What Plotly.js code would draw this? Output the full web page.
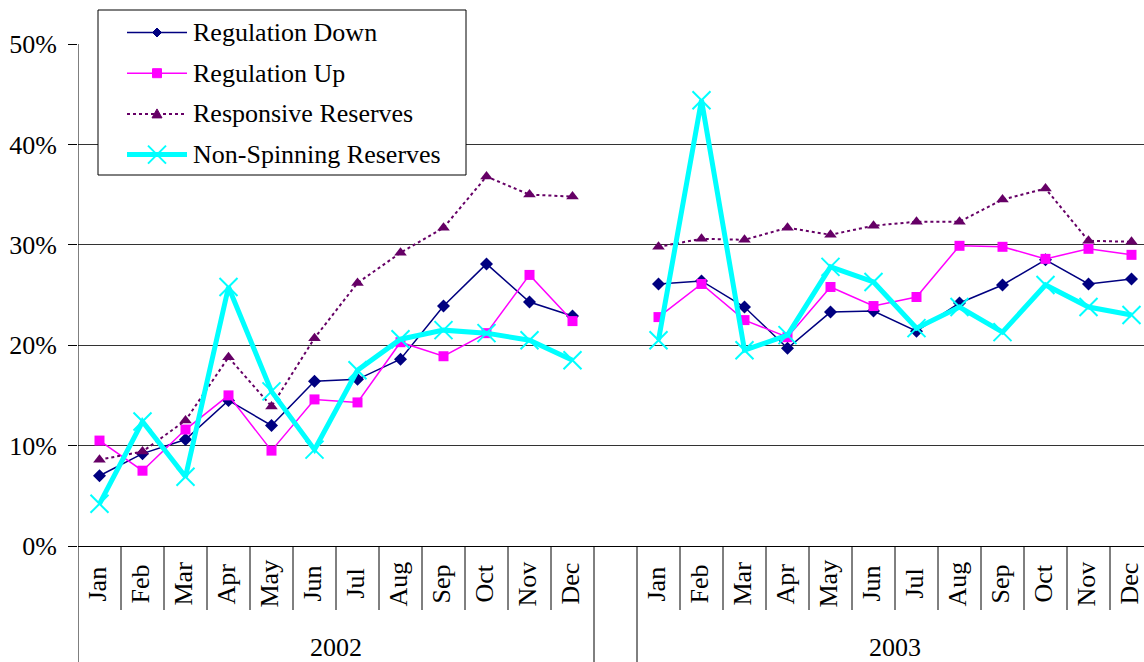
<!DOCTYPE html>
<html>
<head>
<meta charset="utf-8">
<script src="https://cdn.plot.ly/plotly-3.0.1.min.js"></script>
<style>
html, body { margin: 0; padding: 0; background: #fff; overflow: hidden; }
#chart { width: 1153px; height: 662px; }
</style>
</head>
<body>
<div id="chart"></div>
<script>
// ---- data ----
const months = ['Jan','Feb','Mar','Apr','May','Jun','Jul','Aug','Sep','Oct','Nov','Dec'];
const years = ['2002', '2003'];
const seriesNames = ['Regulation Down', 'Regulation Up', 'Responsive Reserves', 'Non-Spinning Reserves'];

const regDown2002 = [7.0, 9.2, 10.6, 14.5, 12.0, 16.4, 16.6, 18.6, 23.9, 28.1, 24.3, 22.9];
const regDown2003 = [26.1, 26.4, 23.8, 19.7, 23.3, 23.4, 21.4, 24.2, 26.0, 28.5, 26.1, 26.6];
const regUp2002 = [10.5, 7.5, 11.6, 15.0, 9.5, 14.6, 14.3, 20.3, 18.9, 21.2, 27.0, 22.4];
const regUp2003 = [22.8, 26.1, 22.5, 20.8, 25.8, 23.9, 24.8, 29.9, 29.8, 28.6, 29.6, 29.0];
const resp2002 = [8.6, 9.4, 12.5, 18.8, 13.9, 20.7, 26.2, 29.2, 31.7, 36.8, 35.0, 34.8];
const resp2003 = [29.8, 30.6, 30.5, 31.7, 31.0, 31.9, 32.3, 32.3, 34.5, 35.6, 30.4, 30.3];
const nonSpin2002 = [4.2, 12.4, 6.9, 25.8, 15.4, 9.6, 17.5, 20.6, 21.5, 21.2, 20.5, 18.5];
const nonSpin2003 = [20.5, 44.4, 19.5, 21.0, 27.8, 26.3, 21.7, 23.8, 21.3, 26.0, 23.8, 23.0];

const yTicks = [0, 10, 20, 30, 40, 50];

// ---- styles ----
const FONT = 'Liberation Serif';
const FS = 26;
const colors = ['#000080', '#FF00FF', '#660066', '#00FFFF'];

// ---- geometry (pixels) ----
const W = 1153, H = 662;
const M = { l: 78, r: 0, t: 44, b: 116 };
const PW = W - M.l - M.r, PH = H - M.t - M.b;
const px2x = px => (px - M.l) / PW;
const py2y = py => (H - M.b - py) / PH;

// ---- positions: 12 months, one empty slot, 12 months ----
const slot = months.length + 1;
const xs = [];
years.forEach((y, yi) => {
  months.forEach((m, mi) => xs.push(yi * slot + mi));
  if (yi < years.length - 1) xs.push(yi * slot + months.length);
});
function join(a, b) { return a.concat([null], b); }

const traces = [
  { name: seriesNames[0], y: join(regDown2002, regDown2003),
    line: { color: colors[0], width: 1.5 },
    marker: { symbol: 'diamond', size: 10, color: colors[0] } },
  { name: seriesNames[1], y: join(regUp2002, regUp2003),
    line: { color: colors[1], width: 1.5 },
    marker: { symbol: 'square', size: 10, color: colors[1] } },
  { name: seriesNames[2], y: join(resp2002, resp2003),
    line: { color: colors[2], width: 2, dash: 'dot' },
    marker: { symbol: 'triangle-up', size: 11, color: colors[2] } },
  { name: seriesNames[3], y: join(nonSpin2002, nonSpin2003),
    line: { color: colors[3], width: 5 },
    marker: { symbol: 'x-thin', size: 18, color: colors[3], line: { color: colors[3], width: 2 } } }
].map(t => Object.assign({
  type: 'scatter', mode: 'lines+markers', x: xs, connectgaps: false,
  hoverinfo: 'skip', showlegend: false, cliponaxis: false
}, t));

const annotations = [];

// month labels (rotated, centred in the band under the axis)
years.forEach((y, yi) => months.forEach((m, mi) => annotations.push({
  x: yi * slot + mi, xref: 'x', y: py2y(584), yref: 'paper', xshift: -3,
  text: m, textangle: -90, showarrow: false, xanchor: 'center', yanchor: 'middle',
  font: { family: FONT, size: FS, color: '#000' }
})));

// separators
const shapes = [];
const lineStyle = { color: '#000', width: 1 };
const shortY = py2y(610), longY = py2y(H);
years.forEach((y, yi) => {
  for (let mi = 0; mi < months.length - 1; mi++) {
    const xv = yi * slot + mi + 0.5;
    shapes.push({ type: 'line', xref: 'x', yref: 'paper', x0: xv, x1: xv, y0: 0, y1: shortY, line: lineStyle });
  }
  const left = yi * slot - 0.5, right = yi * slot + months.length - 0.5;
  shapes.push({ type: 'line', xref: 'x', yref: 'paper', x0: left, x1: left, y0: 0, y1: longY, line: lineStyle });
  shapes.push({ type: 'line', xref: 'x', yref: 'paper', x0: right, x1: right, y0: 0, y1: longY, line: lineStyle });
});
// y axis line
shapes.push({ type: 'line', xref: 'x', yref: 'paper', x0: -0.5, x1: -0.5, y0: 0, y1: 1, line: lineStyle });

// ---- custom legend ----
const lg = { left: 98, top: 10, right: 466, bottom: 175, y0: 32.5, dy: 40.7, lx0: 127, lx1: 187, tx: 191 };
shapes.push({ type: 'rect', xref: 'paper', yref: 'paper',
  x0: px2x(lg.left), x1: px2x(lg.right), y0: py2y(lg.top), y1: py2y(lg.bottom),
  fillcolor: '#fff', line: { color: '#000', width: 1 } });
const legendLines = [
  { color: colors[0], width: 1.5, dash: 'solid' },
  { color: colors[1], width: 1.5, dash: 'solid' },
  { color: colors[2], width: 2, dash: 'dot' },
  { color: colors[3], width: 5, dash: 'solid' }
];
seriesNames.forEach((name, i) => {
  const cy = lg.y0 + i * lg.dy, cx = (lg.lx0 + lg.lx1) / 2;
  shapes.push({ type: 'line', xref: 'paper', yref: 'paper',
    x0: px2x(lg.lx0), x1: px2x(lg.lx1), y0: py2y(cy), y1: py2y(cy), line: legendLines[i] });
  const P = (dx, dy) => px2x(cx + dx) + ',' + py2y(cy + dy);
  const fill = { fillcolor: colors[i], line: { color: colors[i], width: 1 } };
  if (i === 0) shapes.push(Object.assign({ type: 'path', xref: 'paper', yref: 'paper',
    path: 'M' + P(-4.5, 0) + 'L' + P(0, -4.5) + 'L' + P(4.5, 0) + 'L' + P(0, 4.5) + 'Z' }, fill));
  if (i === 1) shapes.push(Object.assign({ type: 'rect', xref: 'paper', yref: 'paper',
    x0: px2x(cx - 4.5), x1: px2x(cx + 4.5), y0: py2y(cy - 4.5), y1: py2y(cy + 4.5) }, fill));
  if (i === 2) shapes.push(Object.assign({ type: 'path', xref: 'paper', yref: 'paper',
    path: 'M' + P(-5, 4) + 'L' + P(0, -5) + 'L' + P(5, 4) + 'Z' }, fill));
  if (i === 3) {
    [[-9, -9, 9, 9], [-9, 9, 9, -9]].forEach(d => shapes.push({ type: 'line', xref: 'paper', yref: 'paper',
      x0: px2x(cx + d[0]), y0: py2y(cy + d[1]), x1: px2x(cx + d[2]), y1: py2y(cy + d[3]),
      line: { color: colors[3], width: 2 } }));
  }
  annotations.push({ xref: 'paper', yref: 'paper', x: px2x(lg.tx), y: py2y(cy),
    xanchor: 'left', yanchor: 'middle', showarrow: false, text: name,
    font: { family: FONT, size: FS, color: '#000' } });
});

// year labels
years.forEach((y, yi) => annotations.push({
  x: yi * slot + (months.length - 1) / 2, xref: 'x', y: py2y(647), yref: 'paper',
  text: y, showarrow: false, xanchor: 'center', yanchor: 'middle',
  font: { family: FONT, size: FS, color: '#000' }
}));

const layout = {
  width: W, height: H,
  margin: { l: M.l, r: M.r, t: M.t, b: M.b, pad: 0 },
  paper_bgcolor: '#fff', plot_bgcolor: '#fff',
  showlegend: false,
  xaxis: {
    range: [-0.5, 24.5], showticklabels: false, ticks: '',
    showgrid: false, zeroline: false, showline: true, linecolor: '#000', linewidth: 1,
    fixedrange: true
  },
  yaxis: {
    range: [0, 50], tickmode: 'array', tickvals: yTicks, ticktext: yTicks.map(v => v + '%'),
    ticks: 'outside', ticklen: 9, tickcolor: '#000', tickwidth: 1, ticklabelstandoff: 6,
    showgrid: true, gridcolor: '#333', gridwidth: 1, zeroline: false,
    showline: false, tickfont: { family: FONT, size: FS, color: '#000' }, fixedrange: true
  },
  shapes: shapes,
  annotations: annotations
};

Plotly.newPlot('chart', traces, layout, { displayModeBar: false, staticPlot: true });
</script>
</body>
</html>
